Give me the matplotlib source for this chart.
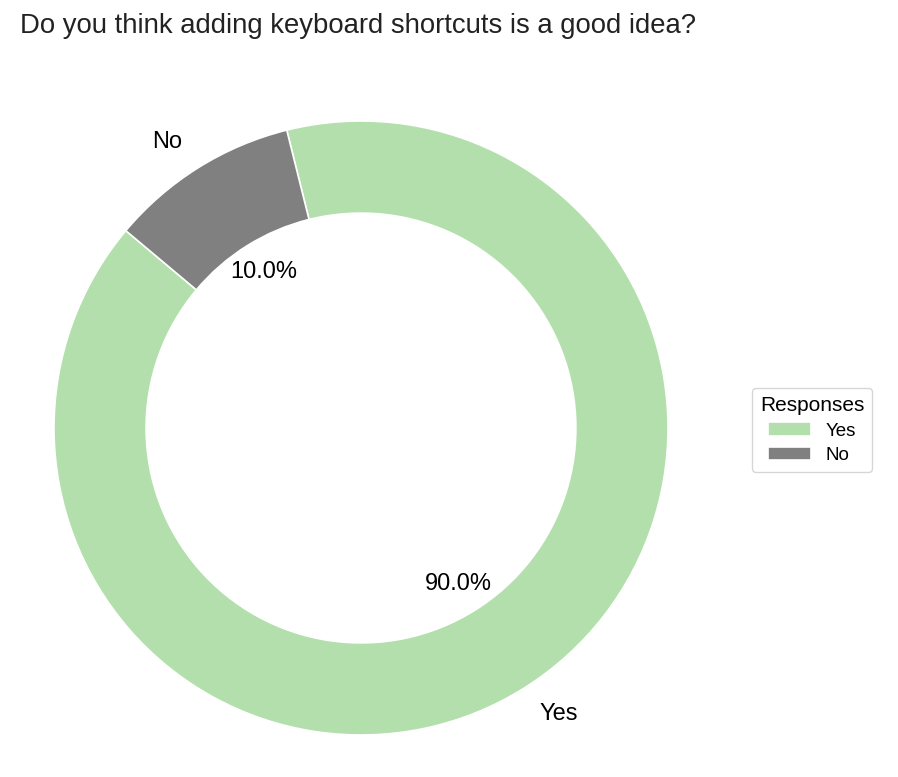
import matplotlib
matplotlib.use("Agg")
import matplotlib.pyplot as plt

plt.rcParams['font.family'] = ['Liberation Sans', 'DejaVu Sans']

labels = ["Yes", "No"]
values = [90, 10]
colors = ["#b2dfab", "#808080"]

fig = plt.figure(figsize=(8.98, 7.77), dpi=100)
W, H = 898, 777
r_px = 307
cx, cy = 361, 777 - 428
lim = 1.15
ax = fig.add_axes([(cx - lim * r_px) / W, (cy - lim * r_px) / H,
                   2 * lim * r_px / W, 2 * lim * r_px / H])

wedges, texts, autotexts = ax.pie(
    values, labels=labels, colors=colors, autopct="%1.1f%%",
    startangle=140, pctdistance=0.6, labeldistance=1.1,
    wedgeprops=dict(width=0.3, edgecolor="white", linewidth=1.2),
    textprops=dict(fontsize=17, color="black"))
ax.set_xlim(-lim, lim)
ax.set_ylim(-lim, lim)
ax.set_aspect("equal")
ax.axis("off")

fig.text(20 / W, 1 - 26 / H, "Do you think adding keyboard shortcuts is a good idea?",
         fontsize=19.8, color="#222222", ha="left", va="center")

leg = fig.legend(wedges, labels, title="Responses", loc="center",
                 bbox_to_anchor=(812 / W, 1 - 430 / H), fontsize=13.5,
                 title_fontsize=15, frameon=True, edgecolor="#cccccc",
                 handlelength=2.3, handleheight=0.7, labelspacing=0.4)
leg.get_frame().set_linewidth(1.0)

fig.savefig("out.png", dpi=100)
